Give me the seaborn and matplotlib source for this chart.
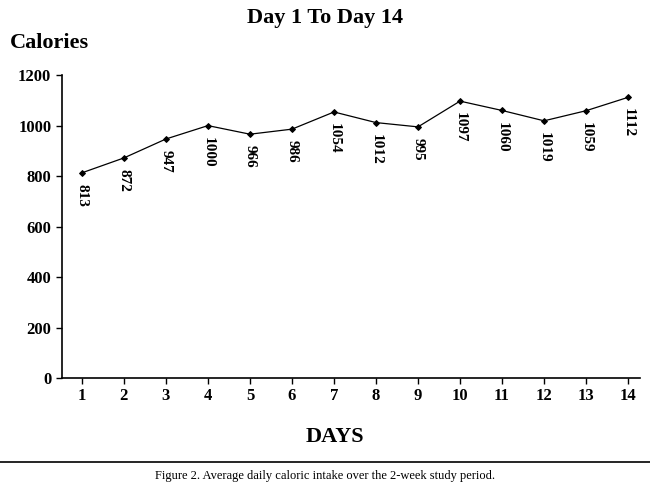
import matplotlib
matplotlib.use("Agg")
import matplotlib.pyplot as plt
import seaborn as sns

days = list(range(1, 15))
calories = [813, 872, 947, 1000, 966, 986, 1054, 1012, 995, 1097, 1060, 1019, 1059, 1112]

sns.set_theme(style="white")
plt.rcParams["font.family"] = ["Liberation Serif", "DejaVu Serif"]
plt.rcParams["text.color"] = "black"

fig = plt.figure(figsize=(6.5, 4.91), dpi=100)
ax = fig.add_axes([0.095, 0.23, 0.89, 0.617])

sns.lineplot(x=days, y=calories, ax=ax, color="black", linewidth=0.9,
             marker="D", markersize=3, markeredgecolor="black")

for d, c in zip(days, calories):
    ax.annotate(str(c), (d, c), textcoords="offset points", xytext=(0, -8),
                rotation=270, ha="center", va="top", fontsize=11,
                fontweight="bold", color="black")

ax.set_xlim(0.52, 14.29)
ax.set_ylim(0, 1200)
ax.set_xticks(days)
ax.set_yticks(range(0, 1201, 200))
ax.tick_params(axis="both", labelsize=12, direction="out", length=4, width=1,
               bottom=True, left=True, colors="black", labelcolor="black")
for lbl in ax.get_xticklabels() + ax.get_yticklabels():
    lbl.set_fontweight("bold")
sns.despine(ax=ax)
for s in ("left", "bottom"):
    ax.spines[s].set_color("black")
    ax.spines[s].set_linewidth(1.2)

fig.text(0.5, 0.963, "Day 1 To Day 14", ha="center", va="center",
         fontsize=16, fontweight="bold", color="black")
fig.text(0.015, 0.912, "Calories", ha="left", va="center",
         fontsize=16, fontweight="bold", color="black")
fig.text(0.515, 0.11, "DAYS", ha="center", va="center",
         fontsize=16, fontweight="bold", color="black")
fig.add_artist(plt.Line2D([0.0, 1.0], [0.06, 0.06], color="black", linewidth=1.2))
fig.text(0.5, 0.03, "Figure 2. Average daily caloric intake over the 2-week study period.",
         ha="center", va="center", fontsize=9, color="black")

fig.savefig("out.png", dpi=100)
